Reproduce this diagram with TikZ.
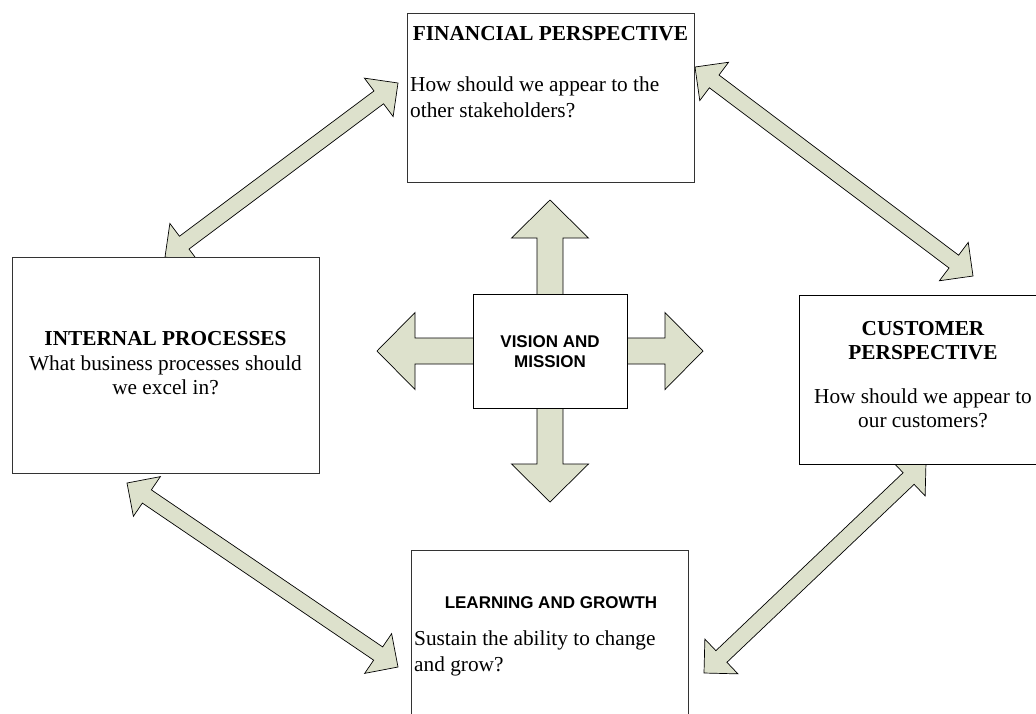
\documentclass[tikz,border=0pt]{standalone}
\usepackage{fontspec}
\setmainfont{Liberation Serif}
\newfontfamily\arialf{Liberation Sans}
\usetikzlibrary{calc}
\definecolor{arrowgreen}{RGB}{221,225,204}
\newcommand\fsz[1]{\fontsize{#1}{#1}\selectfont}
% double-headed block arrow between two named coordinates
\newcommand\dblarrow[2]{%
  \path ($(#1)!24pt!(#2)$) coordinate (dp) ($(#2)!24pt!(#1)$) coordinate (dq);
  \filldraw[arr] (#1) -- ($(dp)!24pt!90:(#2)$) -- ($(dp)!8pt!90:(#2)$)
    -- ($(dq)!8pt!-90:(#1)$) -- ($(dq)!24pt!-90:(#1)$) -- (#2)
    -- ($(dq)!24pt!90:(#1)$) -- ($(dq)!8pt!90:(#1)$)
    -- ($(dp)!8pt!-90:(#2)$) -- ($(dp)!24pt!-90:(#2)$) -- cycle;}
% single-headed wide block arrow from #1 to #2
\newcommand\onearrow[2]{%
  \path ($(#2)!38pt!(#1)$) coordinate (sq);
  \filldraw[arr] ($(#1)!13pt!90:(#2)$) -- ($(sq)!13pt!-90:(#1)$)
    -- ($(sq)!38.5pt!-90:(#1)$) -- (#2) -- ($(sq)!38.5pt!90:(#1)$)
    -- ($(sq)!13pt!90:(#1)$) -- ($(#1)!13pt!-90:(#2)$) -- cycle;}
\begin{document}
\begin{tikzpicture}[x=1pt,y=-1pt,
  box/.style={draw=black!80, line width=1pt, fill=white, inner sep=0pt},
  arr/.style={draw=black, line width=0.7pt, fill=arrowgreen, line join=miter},
  bd/.style={inner sep=0pt, font=\fsz{21.3}},
  hd/.style={inner sep=0pt, font=\fsz{21.3}\bfseries},
  sh/.style={inner sep=0pt, font=\arialf\fsz{17}\bfseries}]
\path[use as bounding box] (0,0) rectangle (1036,713);
\clip (0,0) rectangle (1036,713);

% arrow end points
\coordinate (a1s) at (165,257);
\coordinate (a1e) at (398,83);
\coordinate (a2s) at (695,67);
\coordinate (a2e) at (973,276);
\coordinate (a3s) at (127,483);
\coordinate (a3e) at (398,667);
\coordinate (a4s) at (926,462);
\coordinate (a4e) at (704,673);
\coordinate (vc) at (550,351);
\coordinate (vup) at (550,200);
\coordinate (vdn) at (550,502);
\coordinate (vlt) at (377,351);
\coordinate (vrt) at (703,351);

% connectors
\dblarrow{a1s}{a1e}
\dblarrow{a2s}{a2e}
\dblarrow{a3s}{a3e}
\dblarrow{a4s}{a4e}
\onearrow{vc}{vup}
\onearrow{vc}{vdn}
\onearrow{vc}{vlt}
\onearrow{vc}{vrt}

% boxes
\node[box, minimum width=287pt, minimum height=169pt] (fin) at (550.5,97.5) {};
\node[box, minimum width=307pt, minimum height=216pt] (int) at (165.5,365) {};
\node[box, draw=black, minimum width=248pt, minimum height=169pt] (cus) at (923,379.5) {};
\node[box, minimum width=277pt, minimum height=170pt] (lrn) at (549.5,635) {};
\node[box, draw=black, minimum width=154pt, minimum height=114pt] (vis) at (550,351) {};

% texts
\node[hd, anchor=base] (finh) at (550.5,40) {FINANCIAL PERSPECTIVE};
\node[bd, anchor=base west] (fin1) at (410,91) {How should we appear to the};
\node[bd, anchor=base west] (fin2) at (410,117) {other stakeholders?};

\node[hd, anchor=base] (inth) at (165.5,345) {INTERNAL PROCESSES};
\node[bd, anchor=base] (int1) at (165.5,370) {What business processes should};
\node[bd, anchor=base] (int2) at (165.5,394) {we excel in?};

\node[hd, anchor=base] (cush1) at (923,335.5) {CUSTOMER};
\node[hd, anchor=base] (cush2) at (923,359.5) {PERSPECTIVE};
\node[bd, anchor=base] (cus1) at (923,403) {How should we appear to};
\node[bd, anchor=base] (cus2) at (923,427) {our customers?};

\node[sh, anchor=base] (lrnh) at (551,608) {LEARNING AND GROWTH};
\node[bd, anchor=base west] (lrn1) at (414,645) {Sustain the ability to change};
\node[bd, anchor=base west] (lrn2) at (414,671) {and grow?};

\node[sh, anchor=base] (vis1) at (550,347) {VISION AND};
\node[sh, anchor=base] (vis2) at (550,367) {MISSION};
\end{tikzpicture}
\end{document}
